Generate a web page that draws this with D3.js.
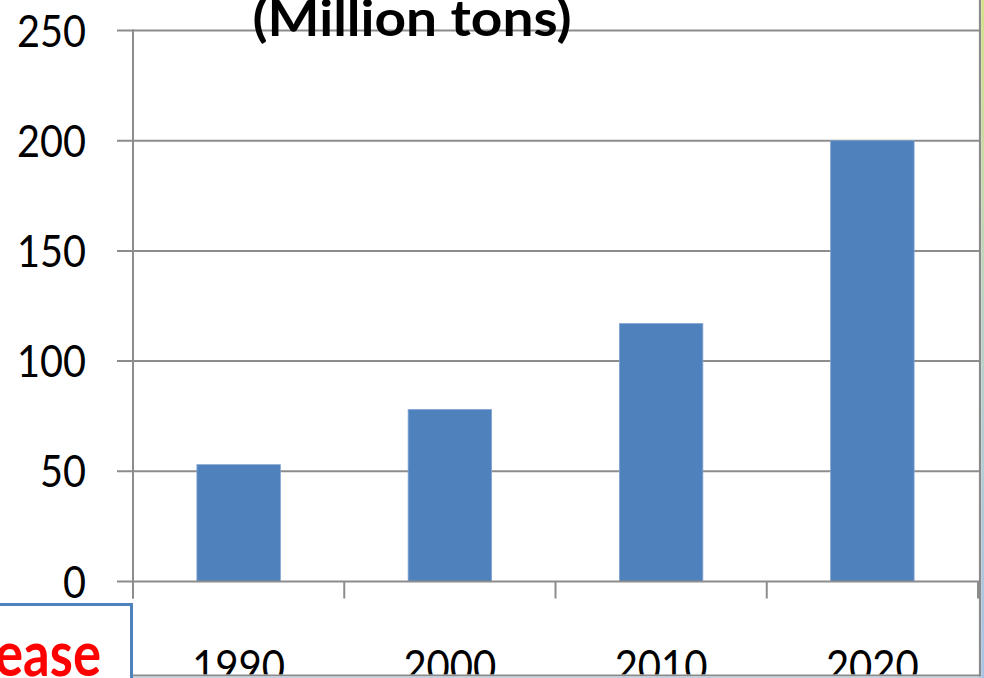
<!DOCTYPE html>
<html>
<head>
<meta charset="utf-8">
<script src="https://cdn.jsdelivr.net/npm/d3@7"></script>
<style>
  html, body { margin: 0; padding: 0; background: #fff; overflow: hidden; }
  svg { display: block; }
  text { font-family: Lato, "Open Sans", "Liberation Sans", sans-serif; }
</style>
</head>
<body>
<svg id="chart" width="984" height="678"></svg>
<script>
// Annual output, million tons
const years = ["1990", "2000", "2010", "2020"];
const output = [53, 78, 117, 200];
const yTicks = [0, 50, 100, 150, 200, 250];
const titleText = "(Million tons)";
const calloutText = "Increase";

const W = 984, H = 678;
const plot = { left: 133, right: 978, top: 30.5, bottom: 581.5 };
const gridColor = "#8c8c8c";
const barColor = "#4f81bd";

const svg = d3.select("#chart");

const y = d3.scaleLinear().domain([0, 250]).range([plot.bottom, plot.top]);
const p = 0.605;
const x = d3.scaleBand().domain(years).range([plot.left, plot.right])
  .paddingInner(p).paddingOuter(p / 2);

// stretch or squeeze a text node horizontally to a given width
function fitWidth(node, w) {
  node.setAttribute("textLength", w);
  node.setAttribute("lengthAdjust", "spacingAndGlyphs");
}

const defs = svg.append("defs");
defs.append("clipPath").attr("id", "frameClip")
  .append("rect").attr("x", 0).attr("y", 0).attr("width", W).attr("height", 674.5);
const grad = defs.append("linearGradient").attr("id", "edgeGrad")
  .attr("x1", 0).attr("y1", 0).attr("x2", 0).attr("y2", 1);
grad.append("stop").attr("offset", "0%").attr("stop-color", "#d6e08a");
grad.append("stop").attr("offset", "45%").attr("stop-color", "#bcd3c6");
grad.append("stop").attr("offset", "100%").attr("stop-color", "#a9c3e6");

// horizontal gridlines (extend left as axis ticks)
svg.append("g").selectAll("line").data(yTicks.filter(d => d > 0)).join("line")
  .attr("x1", plot.left - 16).attr("x2", 980)
  .attr("y1", d => y(d)).attr("y2", d => y(d))
  .attr("stroke", gridColor).attr("stroke-width", 2);

// bars
svg.append("g").selectAll("rect").data(years).join("rect")
  .attr("x", d => x(d))
  .attr("width", x.bandwidth())
  .attr("y", (d, i) => y(output[i]))
  .attr("height", (d, i) => y(0) - y(output[i]))
  .attr("fill", barColor)
  .attr("stroke", "#7fa3d1").attr("stroke-width", 0.8);

// value axis line and zero baseline
svg.append("line")
  .attr("x1", plot.left).attr("x2", plot.left)
  .attr("y1", plot.top - 1).attr("y2", plot.bottom + 17)
  .attr("stroke", gridColor).attr("stroke-width", 2);
svg.append("line")
  .attr("x1", plot.left - 16).attr("x2", 980)
  .attr("y1", y(0)).attr("y2", y(0))
  .attr("stroke", gridColor).attr("stroke-width", 2);

// category tick marks at band boundaries
const bounds = d3.range(years.length + 1).map(i => plot.left + i * x.step());
svg.append("g").selectAll("line").data(bounds).join("line")
  .attr("x1", d => d).attr("x2", d => d)
  .attr("y1", y(0)).attr("y2", y(0) + 17)
  .attr("stroke", gridColor).attr("stroke-width", 2);

// value labels
svg.append("g").selectAll("text").data(yTicks).join("text")
  .attr("x", 86).attr("y", d => y(d) + 16)
  .attr("text-anchor", "end")
  .attr("font-size", 44.5).attr("fill", "#000")
  .text(d => d)
  .each(function (d) { fitWidth(this, 23 * String(d).length); });

// category labels, cut off by the chart frame
svg.append("g").attr("clip-path", "url(#frameClip)")
  .selectAll("text").data(years).join("text")
  .attr("x", d => x(d) + x.bandwidth() / 2).attr("y", 682)
  .attr("text-anchor", "middle")
  .attr("font-size", 44.5).attr("fill", "#000")
  .text(d => d)
  .each(function () { fitWidth(this, 93); });

// chart frame: right and bottom edges
svg.append("line").attr("x1", 980).attr("x2", 980).attr("y1", 0).attr("y2", H)
  .attr("stroke", "#8a8a8a").attr("stroke-width", 2.2);
svg.append("rect").attr("x", 981.2).attr("y", 0).attr("width", 3).attr("height", H)
  .attr("fill", "url(#edgeGrad)");
svg.append("line").attr("x1", 133).attr("x2", 981).attr("y1", 675.5).attr("y2", 675.5)
  .attr("stroke", "#8a8a8a").attr("stroke-width", 1.8);
svg.append("line").attr("x1", 133).attr("x2", 981).attr("y1", 677.3).attr("y2", 677.3)
  .attr("stroke", "#c3d0e2").attr("stroke-width", 1.4);

// title, partly above the top edge
const title = svg.append("text")
  .attr("x", 412).attr("y", 36)
  .attr("text-anchor", "middle")
  .attr("font-size", 50).attr("font-weight", 700).attr("fill", "#000")
  .text(titleText);
fitWidth(title.node(), 319);

// callout box in the lower-left corner
svg.append("rect")
  .attr("x", -10).attr("y", 604.5).attr("width", 141.5).attr("height", 100)
  .attr("fill", "#fff").attr("stroke", barColor).attr("stroke-width", 3);
const fs = 63;
const probe = svg.append("text").attr("font-size", fs).attr("font-weight", 700).text("ease");
const ratio = 106 / probe.node().getComputedTextLength();
probe.remove();
const callout = svg.append("text")
  .attr("x", 101).attr("y", 676)
  .attr("text-anchor", "end")
  .attr("font-size", fs).attr("font-weight", 700).attr("fill", "#ff0000")
  .text(calloutText);
fitWidth(callout.node(), callout.node().getComputedTextLength() * ratio);
</script>
</body>
</html>
